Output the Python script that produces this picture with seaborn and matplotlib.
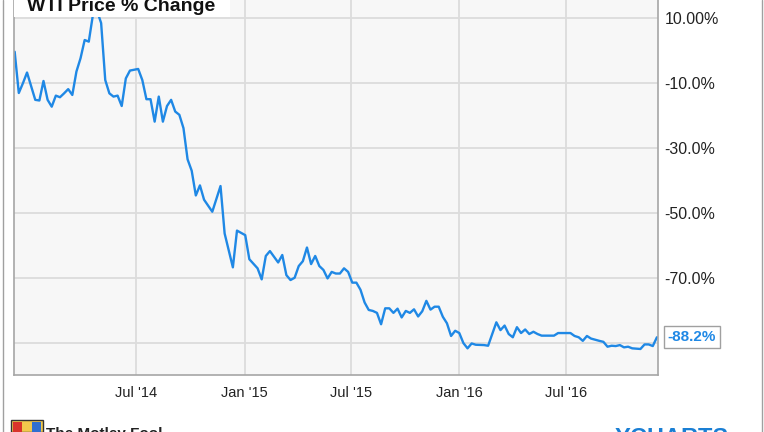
import matplotlib
matplotlib.use("Agg")
import matplotlib.pyplot as plt
from matplotlib.patches import Rectangle
from matplotlib.lines import Line2D
from matplotlib.transforms import blended_transform_factory
import seaborn as sns
import pandas as pd

# weekly WTI % change
dates = [
    "2013-12-06", "2013-12-13", "2013-12-20", "2013-12-27", "2014-01-10", "2014-01-17",
    "2014-01-24", "2014-01-31", "2014-02-07", "2014-02-14", "2014-02-21", "2014-02-28",
    "2014-03-07", "2014-03-14", "2014-03-21", "2014-03-28", "2014-04-04", "2014-04-11",
    "2014-04-18", "2014-04-25", "2014-05-02", "2014-05-09", "2014-05-16", "2014-05-23",
    "2014-05-30", "2014-06-06", "2014-06-13", "2014-06-20", "2014-07-04", "2014-07-11",
    "2014-07-18", "2014-07-25", "2014-08-01", "2014-08-08", "2014-08-15", "2014-08-22",
    "2014-08-29", "2014-09-05", "2014-09-12", "2014-09-19", "2014-09-26", "2014-10-03",
    "2014-10-10", "2014-10-17", "2014-10-24", "2014-11-07", "2014-11-21", "2014-11-28",
    "2014-12-12", "2014-12-19", "2015-01-02", "2015-01-09", "2015-01-23", "2015-01-30",
    "2015-02-06", "2015-02-13", "2015-02-27", "2015-03-06", "2015-03-13", "2015-03-20",
    "2015-03-27", "2015-04-03", "2015-04-10", "2015-04-17", "2015-04-24", "2015-05-01",
    "2015-05-08", "2015-05-15", "2015-05-22", "2015-05-29", "2015-06-05", "2015-06-12",
    "2015-06-19", "2015-06-26", "2015-07-03", "2015-07-10", "2015-07-17", "2015-07-24",
    "2015-07-31", "2015-08-07", "2015-08-14", "2015-08-21", "2015-08-28", "2015-09-04",
    "2015-09-11", "2015-09-18", "2015-09-25", "2015-10-02", "2015-10-09", "2015-10-16",
    "2015-10-23", "2015-10-30", "2015-11-06", "2015-11-13", "2015-11-20", "2015-11-27",
    "2015-12-04", "2015-12-11", "2015-12-18", "2015-12-25", "2016-01-01", "2016-01-08",
    "2016-01-15", "2016-01-22", "2016-01-29", "2016-02-12", "2016-02-19", "2016-02-26",
    "2016-03-04", "2016-03-11", "2016-03-18", "2016-03-25", "2016-04-01", "2016-04-08",
    "2016-04-15", "2016-04-22", "2016-04-29", "2016-05-06", "2016-05-13", "2016-05-20",
    "2016-06-10", "2016-06-17", "2016-07-08", "2016-07-15", "2016-07-22", "2016-07-29",
    "2016-08-05", "2016-08-12", "2016-08-26", "2016-09-02", "2016-09-09", "2016-09-16",
    "2016-09-23", "2016-09-30", "2016-10-07", "2016-10-14", "2016-10-21", "2016-11-04",
    "2016-11-11", "2016-11-18", "2016-11-25", "2016-12-02",
]
pct_change = [
    -0.4, -13.1, -10.1, -6.8, -15.2, -15.4,
    -9.4, -15.2, -17.3, -13.9, -14.4, -13.2,
    -11.9, -13.7, -6.5, -2.4, 3.2, 2.7,
    10.9, 12.2, 8.4, -9.1, -13.2, -14.2,
    -13.9, -17.1, -8.6, -6.2, -5.7, -9.1,
    -15.0, -15.0, -21.9, -14.2, -21.9, -17.1,
    -15.2, -18.8, -19.8, -23.9, -33.5, -37.0,
    -44.6, -41.5, -45.9, -49.6, -41.7, -56.3,
    -66.7, -55.4, -56.8, -64.2, -67.0, -70.4,
    -63.2, -61.7, -65.2, -62.9, -69.1, -70.6,
    -69.9, -66.3, -64.8, -60.6, -65.7, -63.2,
    -66.3, -67.5, -70.1, -68.1, -68.6, -68.6,
    -67.0, -68.1, -71.4, -71.4, -73.6, -77.5,
    -79.8, -80.1, -80.7, -84.2, -79.3, -79.3,
    -80.7, -79.4, -82.1, -80.1, -80.7, -79.6,
    -81.8, -80.2, -77.0, -79.7, -78.8, -78.8,
    -81.9, -83.9, -87.8, -86.2, -86.9, -90.0,
    -91.6, -90.1, -90.5, -90.6, -90.8, -87.2,
    -83.6, -86.0, -84.6, -87.2, -88.2, -85.1,
    -86.9, -85.8, -87.2, -86.5, -87.2, -87.7,
    -87.7, -86.9, -86.9, -87.8, -88.2, -89.3,
    -87.8, -88.6, -89.3, -89.6, -91.1, -90.8,
    -90.9, -90.6, -91.3, -91.1, -91.6, -91.8,
    -90.4, -90.4, -90.9, -88.2,
]

y_ticks = [10, -10, -30, -50, -70, -90]
y_tick_labels = ["10.00%", "-10.0%", "-30.0%", "-50.0%", "-70.0%", ""]
x_ticks = ["2014-07-01", "2015-01-01", "2015-07-01", "2016-01-01", "2016-07-01"]
x_tick_labels = ["Jul '14", "Jan '15", "Jul '15", "Jan '16", "Jul '16"]

line_color = "#1f88e5"

df = pd.DataFrame({"date": pd.to_datetime(dates), "pct": pct_change})

sns.set_style("whitegrid", {"axes.facecolor": "#f7f7f7", "grid.color": "#dcdcdc",
                            "axes.edgecolor": "#a6a6a6"})
plt.rcParams["font.family"] = ["Liberation Sans", "DejaVu Sans"]

fig = plt.figure(figsize=(7.64, 4.32), dpi=100)
ax = fig.add_axes([13.5 / 764, 57 / 432, 644 / 764, 375 / 432])
sns.lineplot(data=df, x="date", y="pct", ax=ax, color=line_color, linewidth=1.7)

ax.set_xlim(pd.Timestamp("2013-12-04"), pd.Timestamp("2016-12-03"))
ax.set_ylim(-99.8, 15.5)
ax.set_xticks(pd.to_datetime(x_ticks))
ax.set_xticklabels(x_tick_labels, fontsize=10.5, color="#222222")
ax.set_yticks(y_ticks)
ax.set_yticklabels(y_tick_labels, fontsize=11.5, color="#222222")
ax.yaxis.tick_right()
ax.tick_params(axis="both", length=0)
ax.tick_params(axis="x", pad=8)
ax.tick_params(axis="y", pad=5)
ax.grid(True, linewidth=1.3)
ax.set_xlabel("")
ax.set_ylabel("")
ax.spines["top"].set_visible(False)
for side in ["left", "right", "bottom"]:
    ax.spines[side].set_linewidth(1.2)

# last value callout
last = pct_change[-1]
trans = blended_transform_factory(ax.transAxes, ax.transData)
ax.text(1.016, last, f"{last:.1f}%", transform=trans, ha="left", va="center",
        fontsize=11, fontweight="bold", color=line_color, clip_on=False,
        bbox=dict(boxstyle="square,pad=0.25", facecolor="white", edgecolor="#a0a0a0", linewidth=1))

# title box, cut at the top edge like the source screenshot
fig.add_artist(Rectangle((14 / 764, 1 - 17 / 432), 216 / 764, 17 / 432,
                         transform=fig.transFigure, facecolor="white", edgecolor="none", zorder=3))
fig.text(27 / 764, 1 - 11 / 432, "WTI Price % Change", fontsize=14, fontweight="bold",
         color="#111111", va="baseline", zorder=4)

# outer frame lines
for xp in [2.5, 761.5]:
    fig.add_artist(Line2D([xp / 764, xp / 764], [0, 1], transform=fig.transFigure,
                          color="#a0a0a0", linewidth=1))

# footer (cut off at the bottom)
fig.add_artist(Rectangle((11 / 764, 0), 32 / 764, 12 / 432, transform=fig.transFigure,
                         facecolor="#f2c94c", edgecolor="#333333", linewidth=1))
fig.add_artist(Rectangle((13 / 764, 0), 9 / 764, 10 / 432, transform=fig.transFigure,
                         facecolor="#d9342b", edgecolor="none"))
fig.add_artist(Rectangle((32 / 764, 0), 9 / 764, 10 / 432, transform=fig.transFigure,
                         facecolor="#2f6fd0", edgecolor="none"))
fig.text(46 / 764, 1 - 427 / 432, "The Motley Fool", fontsize=11, fontweight="bold",
         color="#222222", va="top")
fig.text(615 / 764, 1 - 427 / 432, "YCHARTS", fontsize=17, fontweight="bold",
         color="#1a7fd4", va="top")

fig.savefig("out.png", dpi=100)
